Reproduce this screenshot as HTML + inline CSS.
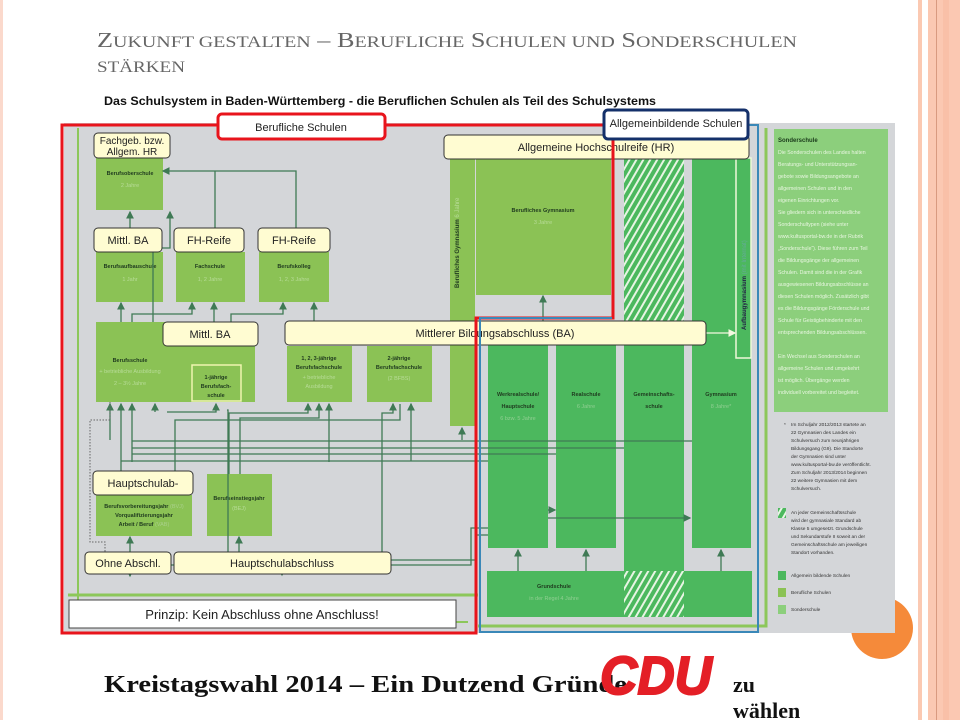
<!DOCTYPE html>
<html><head><meta charset="utf-8"><style>
html,body{margin:0;padding:0;background:#fff;width:960px;height:720px;overflow:hidden}
svg{display:block}
</style></head><body>
<svg width="960" height="720" viewBox="0 0 960 720" xmlns="http://www.w3.org/2000/svg" font-family="Liberation Sans, sans-serif">
<defs>
<pattern id="hatch" width="6" height="6" patternUnits="userSpaceOnUse" patternTransform="rotate(30)">
<rect width="6" height="6" fill="#4cb85e"/><rect width="2" height="6" fill="#e8f5e4"/>
</pattern>
<marker id="ar" markerWidth="6" markerHeight="6" refX="5" refY="3" orient="auto"><path d="M0,0 L6,3 L0,6 z" fill="#3f7a55"/></marker>
<marker id="arw" markerWidth="6" markerHeight="6" refX="5" refY="3" orient="auto"><path d="M0,0 L6,3 L0,6 z" fill="#f4f8e0"/></marker>
</defs>
<rect x="0" y="0" width="3" height="720" fill="#fbd9cc"/>
<rect x="918" y="0" width="4" height="720" fill="#fbc9b2"/>
<rect x="928" y="0" width="32" height="720" fill="#fbc8b2"/>
<rect x="936" y="0" width="1" height="720" fill="#d99a80"/>
<rect x="943" y="0" width="6" height="720" fill="#f9c0a8"/>
<text x="97" y="47" font-family="Liberation Serif, serif" font-size="21" fill="#666" textLength="700" lengthAdjust="spacingAndGlyphs"><tspan>Z</tspan><tspan font-size="16">UKUNFT GESTALTEN</tspan> – B<tspan font-size="16">ERUFLICHE</tspan> S<tspan font-size="16">CHULEN UND</tspan> S<tspan font-size="16">ONDERSCHULEN</tspan></text>
<text x="97" y="72" font-family="Liberation Serif, serif" font-size="16" fill="#666" textLength="88" lengthAdjust="spacingAndGlyphs">STÄRKEN</text>
<text x="104" y="105" font-size="12" font-weight="bold" fill="#111" textLength="552" lengthAdjust="spacingAndGlyphs">Das Schulsystem in Baden-Württemberg - die Beruflichen  Schulen als Teil  des Schulsystems</text>
<circle cx="882" cy="628" r="31" fill="#f58a3a"/>
<rect x="64" y="123" width="831" height="510" fill="#d4d6d9"/>
<path d="M78,128 V622 H468" fill="none" stroke="#8cc75a" stroke-width="2"/>
<path d="M68,595 H478" fill="none" stroke="#8cc75a" stroke-width="3"/>
<path d="M478,626 H766 V128" fill="none" stroke="#8cc75a" stroke-width="3"/>
<g fill="#8bc255">
<rect x="96" y="158" width="67" height="52"/>
<rect x="96" y="252" width="67" height="50"/>
<rect x="176" y="252" width="69" height="50"/>
<rect x="259" y="252" width="70" height="50"/>
<rect x="96" y="322" width="159" height="80"/>
<rect x="287" y="346" width="65" height="56"/>
<rect x="367" y="346" width="65" height="56"/>
<rect x="450" y="158" width="25" height="268"/>
<rect x="476" y="158" width="135" height="137"/>
<rect x="96" y="495" width="96" height="41"/>
<rect x="207" y="474" width="65" height="62"/>
</g>
<rect x="192" y="365" width="49" height="36" fill="#8bc255" stroke="#f0f5b0" stroke-width="1.5"/>
<g fill="#4cb85e">
<rect x="488" y="344" width="60" height="204"/>
<rect x="556" y="344" width="60" height="204"/>
<rect x="624" y="344" width="60" height="227"/>
<rect x="692" y="158" width="59" height="390"/>
<rect x="487" y="571" width="265" height="46"/>
</g>
<rect x="624" y="158" width="60" height="186" fill="url(#hatch)"/>
<rect x="624" y="571" width="60" height="46" fill="url(#hatch)"/>
<rect x="736" y="158" width="15" height="200" fill="#4cb85e" stroke="#eef7d8" stroke-width="1.5"/>
<text transform="translate(746,330) rotate(-90)" font-size="6" font-weight="bold" fill="#224">Aufbaugymnasium <tspan font-weight="normal" fill="#6a9">(mit Internat)</tspan></text>
<rect x="774" y="129" width="114" height="283" fill="#8ccf7c"/>
<text font-size="5.2" fill="#e8f6e0">
<tspan x="778" y="142" font-weight="bold" fill="#1a3a1a" font-size="6">Sonderschule</tspan>
<tspan x="778" y="154">Die Sonderschulen des Landes halten</tspan>
<tspan x="778" y="166">Beratungs- und Unterstützungsan-</tspan>
<tspan x="778" y="178">gebote sowie Bildungsangebote an</tspan>
<tspan x="778" y="190">allgemeinen Schulen und in den</tspan>
<tspan x="778" y="202">eigenen Einrichtungen vor.</tspan>
<tspan x="778" y="214">Sie gliedern sich in unterschiedliche</tspan>
<tspan x="778" y="226">Sonderschultypen (siehe unter</tspan>
<tspan x="778" y="238">www.kultusportal-bw.de in der Rubrik</tspan>
<tspan x="778" y="250">„Sonderschule“). Diese führen zum Teil</tspan>
<tspan x="778" y="262">die Bildungsgänge der allgemeinen</tspan>
<tspan x="778" y="274">Schulen. Damit sind die in der Grafik</tspan>
<tspan x="778" y="286">ausgewiesenen Bildungsabschlüsse an</tspan>
<tspan x="778" y="298">diesen Schulen möglich. Zusätzlich gibt</tspan>
<tspan x="778" y="310">es die Bildungsgänge Förderschule und</tspan>
<tspan x="778" y="322">Schule für Geistigbehinderte mit den</tspan>
<tspan x="778" y="334">entsprechenden Bildungsabschlüssen.</tspan>
<tspan x="778" y="358">Ein Wechsel aus Sonderschulen an</tspan>
<tspan x="778" y="370">allgemeine Schulen und umgekehrt</tspan>
<tspan x="778" y="382">ist möglich. Übergänge werden</tspan>
<tspan x="778" y="394">individuell vorbereitet und begleitet.</tspan>
</text>
<text font-size="4.8" fill="#333">
<tspan x="784" y="426">*</tspan>
<tspan x="791" y="426">Im Schuljahr 2012/2013 startete an</tspan>
<tspan x="791" y="434">22 Gymnasien des Landes ein</tspan>
<tspan x="791" y="442">Schulversuch zum neunjährigen</tspan>
<tspan x="791" y="450">Bildungsgang (G9). Die Standorte</tspan>
<tspan x="791" y="458">der Gymnasien sind unter</tspan>
<tspan x="791" y="466">www.kultusportal-bw.de veröffentlicht.</tspan>
<tspan x="791" y="474">Zum Schuljahr 2013/2014 beginnen</tspan>
<tspan x="791" y="482">22 weitere Gymnasien mit dem</tspan>
<tspan x="791" y="490">Schulversuch.</tspan>
<tspan x="791" y="514">An jeder Gemeinschaftsschule</tspan>
<tspan x="791" y="522">wird der gymnasiale Standard ab</tspan>
<tspan x="791" y="530">Klasse 5 umgesetzt. Grundschule</tspan>
<tspan x="791" y="538">und Sekundarstufe II soweit an der</tspan>
<tspan x="791" y="546">Gemeinschaftsschule am jeweiligen</tspan>
<tspan x="791" y="554">Standort vorhanden.</tspan>
<tspan x="791" y="577">Allgemein bildende Schulen</tspan>
<tspan x="791" y="594">Berufliche Schulen</tspan>
<tspan x="791" y="611">Sonderschule</tspan>
</text>
<rect x="778" y="508" width="8" height="10" fill="url(#hatch)"/>
<rect x="778" y="571" width="8" height="9" fill="#4cb85e"/>
<rect x="778" y="588" width="8" height="9" fill="#8bc255"/>
<rect x="778" y="605" width="8" height="9" fill="#8ccf7c"/>
<g font-size="5.5" font-weight="bold" fill="#1f3a1f" text-anchor="middle">
<text x="130" y="175">Berufsoberschule</text>
<text x="130" y="268">Berufsaufbauschule</text>
<text x="210" y="268">Fachschule</text>
<text x="294" y="268">Berufskolleg</text>
<text x="130" y="362">Berufsschule</text>
<text x="216" y="379">1-jährige</text><text x="216" y="388">Berufsfach-</text><text x="216" y="397">schule</text>
<text x="319" y="360">1, 2, 3-jährige</text><text x="319" y="369">Berufsfachschule</text>
<text x="399" y="360">2-jährige</text><text x="399" y="369">Berufsfachschule</text>
<text x="543" y="212">Berufliches Gymnasium</text>
<text x="518" y="396">Werkrealschule/</text><text x="518" y="408">Hauptschule</text>
<text x="586" y="396">Realschule</text>
<text x="654" y="396">Gemeinschafts-</text><text x="654" y="408">schule</text>
<text x="721" y="396">Gymnasium</text>
<text x="554" y="588">Grundschule</text>
<text x="144" y="508">Berufsvorbereitungsjahr <tspan fill="#a9d08a" font-weight="normal">(BVJ)</tspan></text>
<text x="144" y="517">Vorqualifizierungsjahr</text>
<text x="144" y="526">Arbeit / Beruf <tspan fill="#a9d08a" font-weight="normal">(VAB)</tspan></text>
<text x="239" y="500">Berufseinstiegsjahr</text>
</g>
<g font-size="5.5" fill="#b8dc98" text-anchor="middle">
<text x="130" y="187">2 Jahre</text>
<text x="130" y="281">1 Jahr</text>
<text x="210" y="281">1, 2 Jahre</text>
<text x="294" y="281">1, 2, 3 Jahre</text>
<text x="130" y="373">+ betriebliche Ausbildung</text>
<text x="130" y="385">2 – 3½ Jahre</text>
<text x="319" y="379">+ betriebliche</text><text x="319" y="388">Ausbildung</text>
<text x="399" y="380">(2 BFBS)</text>
<text x="543" y="224">3 Jahre</text>
<text x="239" y="510">(BEJ)</text>
</g>
<g font-size="5.5" fill="#90cf92" text-anchor="middle">
<text x="518" y="420">6 bzw. 5 Jahre</text>
<text x="586" y="408">6 Jahre</text>
<text x="721" y="408">8 Jahre*</text>
<text x="554" y="600">in der Regel 4 Jahre</text>
</g>
<text transform="translate(459,288) rotate(-90)" font-size="6" font-weight="bold" fill="#1f3a1f">Berufliches Gymnasium <tspan font-weight="normal" fill="#b8dc98">6 Jahre</tspan></text>
<g stroke="#3f7a55" stroke-width="1.3" fill="none">
<path d="M130,252 V212" marker-end="url(#ar)"/>
<path d="M153,322 V248 H170 V212" marker-end="url(#ar)"/>
<path d="M296,228 V171 H163" marker-end="url(#ar)"/>
<path d="M215,228 V171"/>
<path d="M121,322 V303" marker-end="url(#ar)"/>
<path d="M132,322 V314 H192 V303" marker-end="url(#ar)"/>
<path d="M214,322 V303" marker-end="url(#ar)"/>
<path d="M231,322 V314 H283 V303" marker-end="url(#ar)"/>
<path d="M314,322 V303" marker-end="url(#ar)"/>
<path d="M543,322 V296" marker-end="url(#ar)"/>
<path d="M705,333 H735" stroke="#f4f8e0" marker-end="url(#arw)"/>
<path d="M110,440 V404" marker-end="url(#ar)"/>
<path d="M121,471 V404" marker-end="url(#ar)"/>
<path d="M132,462 V404" marker-end="url(#ar)"/>
<path d="M155,412 V404" marker-end="url(#ar)"/>
<path d="M167,412 H216 V404" marker-end="url(#ar)"/>
<path d="M175,471 V420 H400 V404"/>
<path d="M228,552 V410 H227"/>
<path d="M229,474 V413 H308 V404" marker-end="url(#ar)"/>
<path d="M240,474 V418 H319 V404" marker-end="url(#ar)"/>
<path d="M329,462 V404" marker-end="url(#ar)"/>
<path d="M382,552 V413 H393 V404" marker-end="url(#ar)"/>
<path d="M411,461 V404" marker-end="url(#ar)"/>
<path d="M462,440 V428" marker-end="url(#ar)"/>
<path d="M132,441 H692"/>
<path d="M132,448 H624"/>
<path d="M132,454 H556"/>
<path d="M121,461 H488"/>
<path d="M130,552 V537" marker-end="url(#ar)"/>
<path d="M239,552 V537" marker-end="url(#ar)"/>
<path d="M548,510 H555" marker-end="url(#ar)"/>
<path d="M548,518 H690" marker-end="url(#ar)"/>
<path d="M488,528 H471 V565 H130 V576" marker-end="url(#ar)"/>
<path d="M488,535 H476 V560 H282 V575" marker-end="url(#ar)"/>
<path d="M518,571 V550" marker-end="url(#ar)"/>
<path d="M586,571 V550" marker-end="url(#ar)"/>
<path d="M721,571 V550" marker-end="url(#ar)"/>
</g>
<path d="M110,402 V420 H90 V542 H105 V552" stroke="#666" stroke-width="1" stroke-dasharray="1.5,1.5" fill="none"/>
<g fill="#fffcd2" stroke="#333" stroke-width="1">
<rect x="94" y="133" width="76" height="25" rx="4"/>
<rect x="94" y="228" width="68" height="24" rx="4"/>
<rect x="174" y="228" width="70" height="24" rx="4"/>
<rect x="258" y="228" width="72" height="24" rx="4"/>
<rect x="163" y="322" width="95" height="24" rx="4"/>
<rect x="285" y="321" width="421" height="24" rx="4"/>
<rect x="444" y="135" width="305" height="24" rx="4"/>
<rect x="93" y="471" width="100" height="24" rx="4"/>
<rect x="85" y="552" width="86" height="22" rx="4"/>
<rect x="174" y="552" width="217" height="22" rx="4"/>
</g>
<g font-size="11" fill="#222" text-anchor="middle">
<text x="132" y="144" font-size="10">Fachgeb. bzw.</text>
<text x="132" y="155" font-size="10">Allgem. HR</text>
<text x="128" y="244">Mittl. BA</text>
<text x="209" y="244">FH-Reife</text>
<text x="294" y="244">FH-Reife</text>
<text x="210" y="338">Mittl. BA</text>
<text x="495" y="337">Mittlerer Bildungsabschluss (BA)</text>
<text x="596" y="151">Allgemeine Hochschulreife (HR)</text>
<text x="143" y="487">Hauptschulab-</text>
<text x="128" y="567">Ohne Abschl.</text>
<text x="282" y="567">Hauptschulabschluss</text>
</g>
<path d="M62,125 H613 V318 H476 V633 H62 Z" fill="none" stroke="#e8141c" stroke-width="3"/>
<path d="M609,125 H758 V632 H480 V318 H612" fill="none" stroke="#3a88b8" stroke-width="2"/>
<rect x="218" y="114" width="167" height="25" rx="4" fill="#fff" stroke="#e8141c" stroke-width="3"/>
<text x="301" y="131" font-size="11" fill="#222" text-anchor="middle">Berufliche Schulen</text>
<rect x="604" y="110" width="144" height="29" rx="4" fill="#fff" stroke="#14306a" stroke-width="3"/>
<text x="676" y="127" font-size="11" fill="#222" text-anchor="middle">Allgemeinbildende Schulen</text>
<rect x="69" y="600" width="387" height="28" fill="#fff" stroke="#444" stroke-width="1"/>
<text x="262" y="619" font-size="13" fill="#222" text-anchor="middle">Prinzip: Kein Abschluss ohne Anschluss!</text>
<text x="104" y="692" font-family="Liberation Serif, serif" font-weight="bold" font-size="24" fill="#111" textLength="523" lengthAdjust="spacingAndGlyphs">Kreistagswahl 2014 – Ein Dutzend Gründe</text>
<text x="600" y="694" font-family="Liberation Sans, sans-serif" font-weight="bold" font-style="italic" font-size="54" fill="#e41f26" stroke="#e41f26" stroke-width="2" textLength="112" lengthAdjust="spacingAndGlyphs">CDU</text>
<text x="733" y="692" font-family="Liberation Serif, serif" font-weight="bold" font-size="22" fill="#111">zu</text>
<text x="733" y="718" font-family="Liberation Serif, serif" font-weight="bold" font-size="22" fill="#111">wählen</text>
</svg>
</body></html>
